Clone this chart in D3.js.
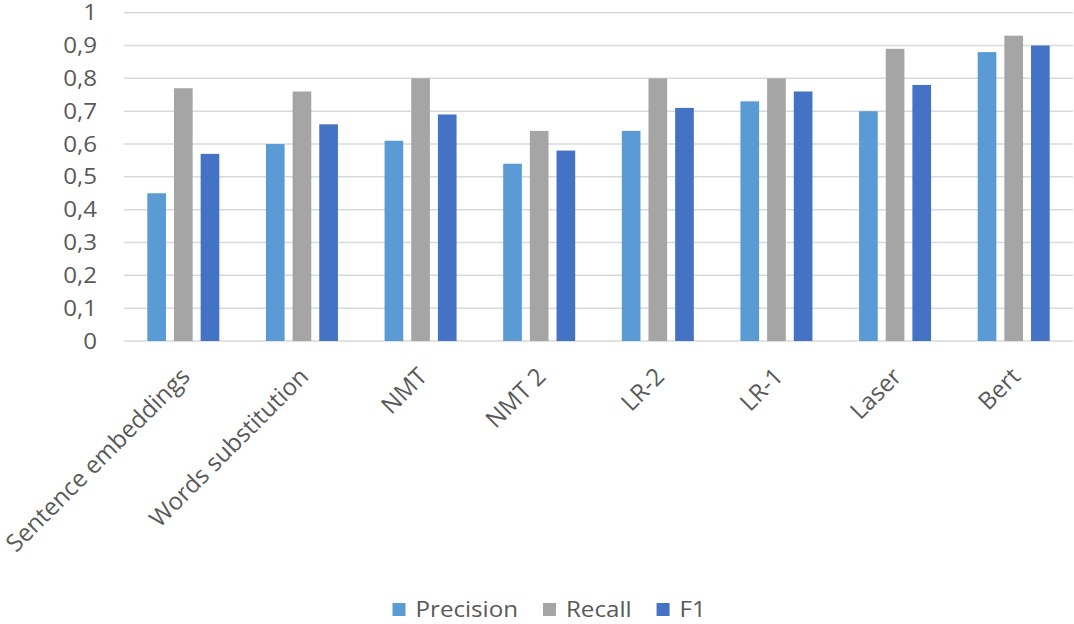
<!DOCTYPE html>
<html>
<head>
<meta charset="utf-8">
<script src="https://cdn.jsdelivr.net/npm/d3@7"></script>
<style>
html,body{margin:0;padding:0;background:#fff;}
svg text{font-family:"Open Sans","Noto Sans",sans-serif;fill:#595959;}
</style>
</head>
<body>
<svg id="chart" width="1074" height="624"></svg>
<script>
const categories = ["Sentence embeddings","Words substitution","NMT","NMT 2","LR-2","LR-1","Laser","Bert"];
const seriesNames = ["Precision","Recall","F1"];
const precision = [0.45,0.60,0.61,0.54,0.64,0.73,0.70,0.88];
const recall    = [0.77,0.76,0.80,0.64,0.80,0.80,0.89,0.93];
const f1        = [0.57,0.66,0.69,0.58,0.71,0.76,0.78,0.90];
const yTicks = [0,0.1,0.2,0.3,0.4,0.5,0.6,0.7,0.8,0.9,1];
const colors = ["#5b9bd5","#a5a5a5","#4472c4"];

const seriesValues = [precision, recall, f1];
const svg = d3.select("#chart");
const mLeft = 124, mRight = 1073, mTop = 12.7, mBottom = 341;
const stretch = 1.15;

const x = d3.scaleBand().domain(categories).range([mLeft, mRight]).paddingInner(0).paddingOuter(0);
const xs = d3.scaleBand().domain(seriesNames).range([0, 72]).paddingInner(0.3).paddingOuter(0);
const y = d3.scaleLinear().domain([0,1]).range([mBottom, mTop]);

svg.append("g").selectAll("line").data(yTicks).join("line")
  .attr("x1", mLeft).attr("x2", mRight)
  .attr("y1", d => y(d)).attr("y2", d => y(d))
  .attr("stroke", "#d9d9d9").attr("stroke-width", 1.5);

svg.append("g").selectAll("text").data(yTicks).join("text")
  .attr("transform", d => `translate(97,${y(d)}) scale(${stretch},1)`)
  .attr("dy", "0.36em")
  .attr("text-anchor", "end").attr("font-size", 21)
  .text(d => d3.format(".1f")(d).replace(".", ",").replace(/,0$/, ""));

const groupW = 72;
const g = svg.append("g");
seriesNames.forEach((s, si) => {
  g.append("g").selectAll("rect").data(categories).join("rect")
    .attr("x", c => x(c) + (x.bandwidth() - groupW)/2 + xs(s))
    .attr("width", xs.bandwidth())
    .attr("y", (c, i) => y(seriesValues[si][i]))
    .attr("height", (c, i) => y(0) - y(seriesValues[si][i]))
    .attr("fill", colors[si]);
});

svg.append("g").selectAll("text").data(categories).join("text")
  .attr("transform", c => `translate(${x(c) + x.bandwidth()/2 + 8},378) rotate(-45)`)
  .attr("text-anchor", "end").attr("font-size", 24)
  .text(c => c);

const lg = svg.append("g");
let lx = 392.5;
seriesNames.forEach((s, si) => {
  lg.append("rect").attr("x", lx).attr("y", 603).attr("width", 13).attr("height", 13).attr("fill", colors[si]);
  const t = lg.append("text")
    .attr("transform", `translate(${lx + 23},616.5) scale(${stretch},1)`)
    .attr("font-size", 21).text(s);
  lx += 23 + t.node().getComputedTextLength() * stretch + 25;
});
</script>
</body>
</html>
